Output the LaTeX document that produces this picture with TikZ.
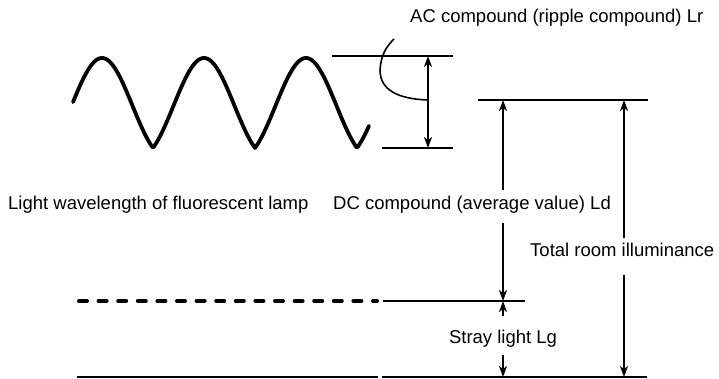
\documentclass[tikz,border=0pt]{standalone}
\usepackage{fontspec}
\setmainfont{Liberation Sans}
\usetikzlibrary{arrows.meta}
\begin{document}
\begin{tikzpicture}[x=1pt,y=-1pt,
  thinline/.style={line width=1.6pt},
  arr/.style={line width=1.6pt,-{Stealth[length=11pt,width=8pt,inset=3pt]}},
  lbl/.style={inner sep=0pt,font=\fontsize{18.5}{22}\selectfont},
  wave/.style={line width=3.8pt,line cap=round,line join=round}]
\useasboundingbox (0,0) rectangle (719,379);
% wave
\draw[wave] plot[domain=73:369,samples=240,smooth]
  (\x,{58+90*(0.25*(1-cos(3.52941*(\x-102)))+0.5*(1-abs(cos(1.76471*(\x-102)))))});
% labels
\node[lbl,anchor=base west] (ac) at (410,23) {AC compound (ripple compound) Lr};
\node[lbl,anchor=base west] (lw) at (8,210) {Light wavelength of fluorescent lamp};
\node[lbl,anchor=base west] (dc) at (333,210) {DC compound (average value) Ld};
\node[lbl,anchor=base west] (tot) at (530,256) {Total room illuminance};
\node[lbl,anchor=base] (sl) at (503,343) {Stray light Lg};
% coordinates
\coordinate (acTl) at (332,56);  \coordinate (acTr) at (453,56);
\coordinate (acBl) at (382,148); \coordinate (acBr) at (453,148);
\coordinate (acT) at (428,56);   \coordinate (acB) at (428,148);
\coordinate (acM) at (428,100);  \coordinate (ldr) at (394,39);
\coordinate (topL) at (478,100); \coordinate (topR) at (648,100);
\coordinate (ldT) at (503,100);  \coordinate (ldU) at (503,190);
\coordinate (ldD) at (503,223);  \coordinate (ldB) at (503,301);
\coordinate (toT) at (624,100);  \coordinate (toU) at (624,238);
\coordinate (toD) at (624,275);  \coordinate (toB) at (624,377);
\coordinate (dsL) at (79,301);   \coordinate (dsR) at (377,301);
\coordinate (msL) at (383,301);  \coordinate (msR) at (525,301);
\coordinate (slU) at (503,316);  \coordinate (slD) at (503,355);
\coordinate (slB) at (503,377);
\coordinate (btL) at (77,377);   \coordinate (btM1) at (378,377);
\coordinate (btM2) at (382,377); \coordinate (btR) at (647,377);
% AC part
\draw[thinline] (acTl) -- (acTr);
\draw[thinline] (acBl) -- (acBr);
\draw[arr] (acM) -- (acT);
\draw[arr] (acM) -- (acB);
\draw[thinline] (ldr) .. controls (386,47) and (381,55) .. (380,70)
  .. controls (380,90) and (398,99) .. (acM);
% DC part
\draw[thinline] (topL) -- (topR);
\draw[arr] (ldU) -- (ldT);
\draw[arr] (ldD) -- (ldB);
\draw[arr] (toU) -- (toT);
\draw[arr] (toD) -- (toB);
% stray light
\draw[line width=4pt,line cap=round,dash pattern=on 8pt off 11.6pt] (dsL) -- (dsR);
\draw[thinline] (msL) -- (msR);
\draw[arr] (slU) -- (ldB);
\draw[arr] (slD) -- (slB);
\draw[line width=2pt] (btL) -- (btM1);
\draw[line width=2pt] (btM2) -- (btR);
\end{tikzpicture}
\end{document}
